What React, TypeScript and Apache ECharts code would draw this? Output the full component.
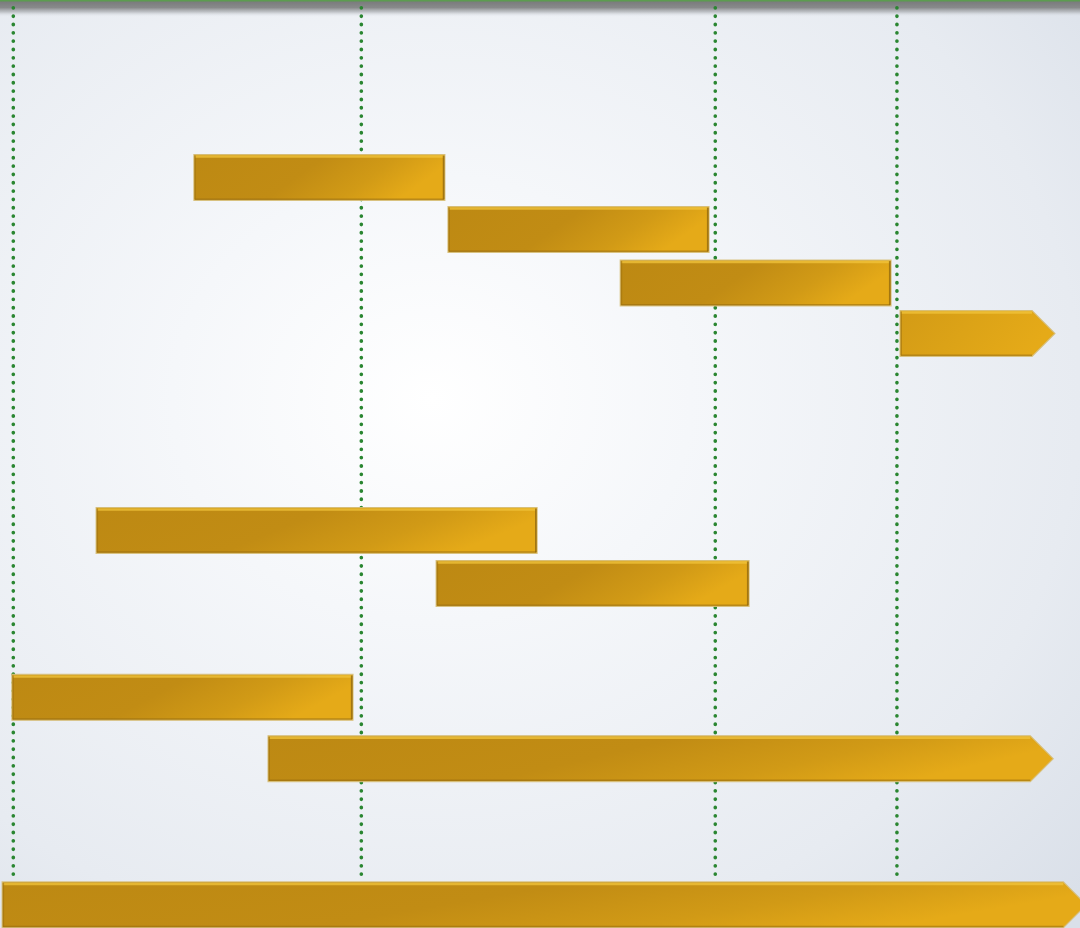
import React, { useEffect, useRef } from "react";
import * as echarts from "echarts";

// Timeline units (x) and row positions (y)
const taskStart = [51.9, 124.9, 174.4, 254.8, 23.8, 121.5, -0.4, 73.2, -3.2];
const taskEnd = [124.0, 199.9, 252.2, 299.3, 150.5, 211.4, 97.6, 298.8, 308.3];
const taskRow = [3.413, 4.413, 5.442, 6.413, 10.2, 11.22, 13.41, 14.59, 17.4];
const taskArrow = [0, 0, 0, 1, 0, 0, 0, 1, 1];
const milestones = [0, 100, 201.7, 253.9];
const milestoneTop = 0.148;
const milestoneBottom = 16.86;

const X_MIN = -3.82;
const X_MAX = 306.5;
const Y_MIN = 0;
const Y_MAX = 17.846;
const BAR_THICK = 0.88;

export default function App() {
  const ref = useRef<HTMLDivElement>(null);
  useEffect(() => {
    if (!ref.current) return;
    const chart = echarts.init(ref.current, null, { renderer: "svg" });
    const data = taskStart.map((s, i) => [s, taskEnd[i], taskRow[i], taskArrow[i]]);

    const lineSeries = milestones.map((m) => ({
      type: "line",
      z: 1,
      silent: true,
      showSymbol: false,
      symbol: "none",
      data: [
        [m, milestoneTop],
        [m, milestoneBottom],
      ],
      lineStyle: { color: "#2a8631", width: 3.6, type: [0.3, 8.03], cap: "round" },
    }));

    chart.setOption({
      animation: false,
      backgroundColor: {
        type: "radial",
        x: 0.4,
        y: 0.43,
        r: 0.8,
        colorStops: [
          { offset: 0, color: "#ffffff" },
          { offset: 0.3, color: "#f5f7fa" },
          { offset: 0.75, color: "#e7ebf1" },
          { offset: 1, color: "#dae0e9" },
        ],
      },
      grid: { left: 0, right: 0, top: 0, bottom: 0 },
      xAxis: {
        type: "value",
        min: X_MIN,
        max: X_MAX,
        show: false,
        splitLine: { show: false },
      },
      yAxis: {
        type: "value",
        min: Y_MIN,
        max: Y_MAX,
        inverse: true,
        show: false,
        splitLine: { show: false },
      },
      graphic: [
        {
          type: "rect",
          z: 0,
          shape: { x: 0, y: 0, width: 1080, height: 17 },
          style: {
            fill: new echarts.graphic.LinearGradient(0, 0, 0, 1, [
              { offset: 0, color: "rgba(118,120,120,1)" },
              { offset: 0.45, color: "rgba(136,138,139,1)" },
              { offset: 0.7, color: "rgba(170,173,177,0.7)" },
              { offset: 0.88, color: "rgba(210,214,220,0.3)" },
              { offset: 1, color: "rgba(230,234,240,0)" },
            ]),
          },
        },
        {
          type: "rect",
          z: 0,
          shape: { x: 0, y: 0, width: 1080, height: 1.5 },
          style: { fill: "#5c9c50" },
        },
      ],
      series: [
        ...lineSeries,
        {
          type: "custom",
          z: 3,
          encode: { x: [0, 1], y: 2 },
          data,
          renderItem: (params: any, api: any) => {
            const s = api.value(0);
            const e = api.value(1);
            const r = api.value(2);
            const arrow = api.value(3);
            const a = api.coord([s, r]);
            const b = api.coord([e, r]);
            const h = api.size([0, BAR_THICK])[1];
            const top = a[1] - h / 2;
            const bot = a[1] + h / 2;
            const tip = arrow ? h / 2 : 0;
            const bodyEnd = b[0] - tip;
            const w = b[0] - a[0];
            const points = arrow
              ? [
                  [a[0], top],
                  [bodyEnd, top],
                  [b[0], a[1]],
                  [bodyEnd, bot],
                  [a[0], bot],
                ]
              : [
                  [a[0], top],
                  [b[0], top],
                  [b[0], bot],
                  [a[0], bot],
                ];
            const short = w < 200;
            const fill = new echarts.graphic.LinearGradient(0, 0, 1, 0.25, short
              ? [
                  { offset: 0, color: "#d39b16" },
                  { offset: 0.5, color: "#dca317" },
                  { offset: 1, color: "#e5aa18" },
                ]
              : [
                  { offset: 0, color: "#bd8913" },
                  { offset: 0.5, color: "#c18c14" },
                  { offset: 0.78, color: "#d19a16" },
                  { offset: 1, color: "#e5aa18" },
                ]);
            return {
              type: "group",
              children: [
                {
                  type: "polygon",
                  shape: { points },
                  style: { fill, stroke: "rgba(214,190,120,0.9)", lineWidth: 1.2 },
                },
                {
                  type: "line",
                  shape: { x1: a[0] + 1, y1: top + 2, x2: bodyEnd - (arrow ? 0 : 1), y2: top + 2 },
                  style: { stroke: "rgba(242,196,60,0.75)", lineWidth: 2.5 },
                },
                {
                  type: "line",
                  shape: { x1: a[0] + 1, y1: bot - 1.2, x2: bodyEnd - (arrow ? 0 : 1), y2: bot - 1.2 },
                  style: { stroke: "rgba(150,108,14,0.55)", lineWidth: 1.5 },
                },
                {
                  type: "line",
                  shape: { x1: a[0] + 1.2, y1: top + 1, x2: a[0] + 1.2, y2: bot - 1 },
                  style: { stroke: "rgba(160,115,15,0.6)", lineWidth: 1.5 },
                },
                ...(arrow
                  ? []
                  : [
                      {
                        type: "line",
                        shape: { x1: b[0] - 1.2, y1: top + 1, x2: b[0] - 1.2, y2: bot - 1 },
                        style: { stroke: "rgba(140,100,14,0.75)", lineWidth: 1.8 },
                      },
                    ]),
              ],
            };
          },
        },
      ],
    });
    return () => chart.dispose();
  }, []);
  return (
    <div
      ref={ref}
      style={{ position: "absolute", left: 0, top: 0, width: 1080, height: 928 }}
    />
  );
}
